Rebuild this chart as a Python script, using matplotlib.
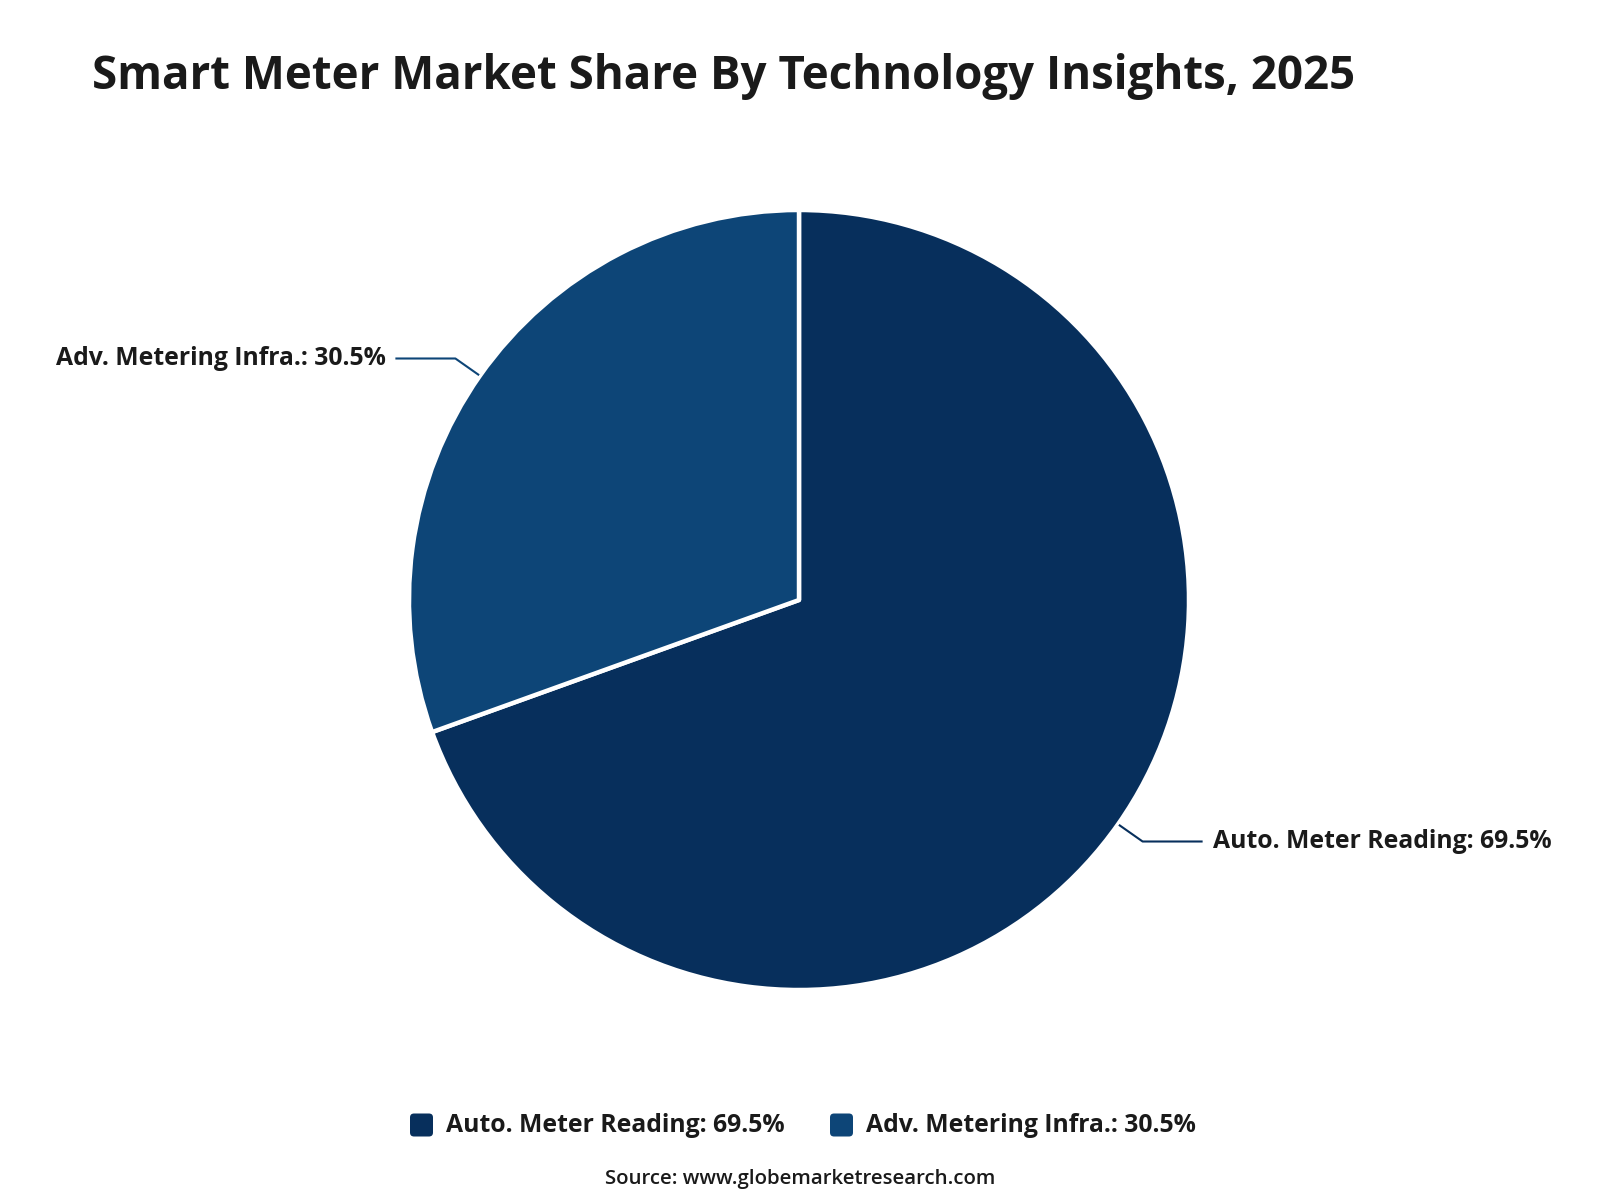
import numpy as np
import matplotlib
matplotlib.use('Agg')
import matplotlib.pyplot as plt
from matplotlib.patches import FancyBboxPatch

plt.rcParams['font.family'] = ['Open Sans', 'DejaVu Sans']

# data
labels = ['Auto. Meter Reading', 'Adv. Metering Infra.']
shares = [69.5, 30.5]
colors = ['#072f5c', '#0d4577']
title = 'Smart Meter Market Share By Technology Insights, 2025'
source = 'Source: www.globemarketresearch.com'

W, H = 1600, 1200
fig = plt.figure(figsize=(16, 12), dpi=100)
ax = fig.add_axes([0, 0, 1, 1])

cx, cy, r = 799, H - 600, 390
wedges, _ = ax.pie(shares, colors=colors, startangle=90, counterclock=False,
                   center=(cx, cy), radius=r, frame=True,
                   wedgeprops=dict(edgecolor='white', linewidth=3.2, joinstyle='round'))
ax.set_xlim(0, W)
ax.set_ylim(0, H)
ax.set_aspect('equal')
ax.axis('off')

# outside labels with leader lines
for w, lab, val, col in zip(wedges, labels, shares, colors):
    mid = np.deg2rad((w.theta1 + w.theta2) / 2)
    x0, y0 = cx + (r + 1) * np.cos(mid), cy + (r + 1) * np.sin(mid)
    x1, y1 = cx + (r + 30) * np.cos(mid), cy + (r + 30) * np.sin(mid)
    side = 1 if np.cos(mid) > 0 else -1
    x2 = x1 + side * 60
    ax.plot([x0, x1, x2], [y0, y1, y1], color=col, lw=1.5, solid_capstyle='butt')
    ax.text(x2 + side * 10, y1, f'{lab}: {val}%', ha='left' if side > 0 else 'right',
            va='center', fontsize=17.8, fontweight='bold', color='#1a1a1a')

fig.text(92 / W, 1 - 76 / H, title, ha='left', va='center', fontsize=32.9,
         fontweight='bold', color='#1a1a1a')

# legend
leg_y = H - 1125
items = [(410, 0), (830, 1)]
for x, i in items:
    ax.add_patch(FancyBboxPatch((x, leg_y - 11.5), 23, 23,
                                boxstyle='round,pad=0,rounding_size=4',
                                facecolor=colors[i], edgecolor='none'))
    ax.text(x + 36, leg_y, f'{labels[i]}: {shares[i]}%', ha='left', va='center',
            fontsize=17.8, fontweight='bold', color='#1a1a1a')

fig.text(0.5, 1 - 1179 / H, source, ha='center', va='center', fontsize=14.7,
         fontweight='semibold', color='#1a1a1a')

fig.savefig('out.png', dpi=100, facecolor='white')
